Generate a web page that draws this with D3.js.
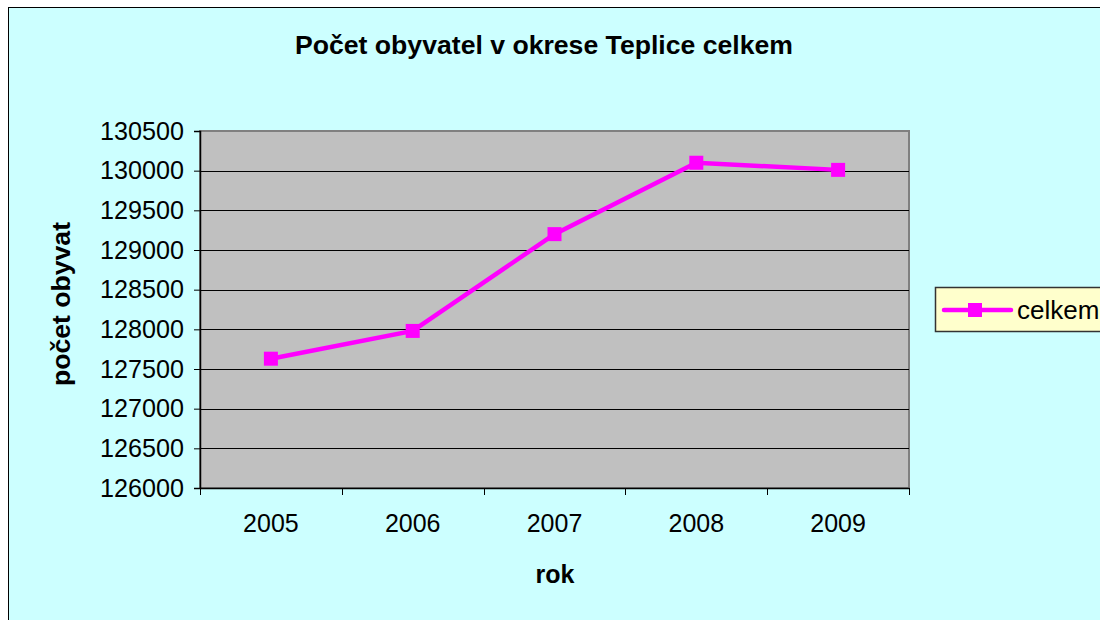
<!DOCTYPE html>
<html>
<head>
<meta charset="utf-8">
<script src="https://cdn.jsdelivr.net/npm/d3@7"></script>
<style>
  body { margin: 0; background: #fff; }
  svg { display: block; font-family: "Liberation Sans", Arial, sans-serif; }
</style>
</head>
<body>
<div id="chart"></div>
<script>
const years = ["2005", "2006", "2007", "2008", "2009"];
const celkem = [127630, 127980, 129200, 130100, 130010];
const yTicks = [126000, 126500, 127000, 127500, 128000, 128500, 129000, 129500, 130000, 130500];
const seriesName = "celkem";

const W = 1100, H = 620;
const plot = { left: 200, top: 131, right: 909, bottom: 488 };

const svg = d3.select("#chart").append("svg").attr("width", W).attr("height", H);

// chart background with border (clipped at right/bottom like the original)
svg.append("rect")
  .attr("x", 8.5).attr("y", 7.5)
  .attr("width", W).attr("height", H)
  .attr("fill", "#ccffff").attr("stroke", "#000").attr("stroke-width", 1);

const x = d3.scaleBand().domain(years).range([plot.left, plot.right]);
const y = d3.scaleLinear().domain([126000, 130500]).range([plot.bottom, plot.top]);

// plot area
svg.append("rect")
  .attr("x", plot.left).attr("y", plot.top)
  .attr("width", plot.right - plot.left).attr("height", plot.bottom - plot.top)
  .attr("fill", "#c0c0c0").attr("stroke", "#808080").attr("stroke-width", 2);

// gridlines
svg.append("g")
  .selectAll("line")
  .data(yTicks.slice(1, -1))
  .enter()
  .append("line")
  .attr("x1", plot.left).attr("x2", plot.right)
  .attr("y1", (d) => Math.round(y(d)) + 0.5).attr("y2", (d) => Math.round(y(d)) + 0.5)
  .attr("stroke", "#000").attr("stroke-width", 1);

// y axis
const yAxis = svg.append("g")
  .attr("transform", `translate(${plot.left},0)`)
  .call(d3.axisLeft(y).tickValues(yTicks).tickSize(6).tickPadding(10).tickFormat(d3.format("d")));
yAxis.select(".domain").attr("stroke", "#000").attr("stroke-width", 1.5);
yAxis.selectAll(".tick line").attr("stroke", "#000");
yAxis.selectAll("text").attr("font-size", 25).attr("fill", "#000")
  .attr("font-family", "Liberation Sans, Arial, sans-serif")
  .attr("textLength", 84).attr("lengthAdjust", "spacingAndGlyphs");

// x axis
const xAxis = svg.append("g")
  .attr("transform", `translate(0,${plot.bottom})`)
  .call(d3.axisBottom(x).tickSize(0).tickPadding(26));
xAxis.select(".domain").attr("stroke", "#000").attr("stroke-width", 1.5);
xAxis.selectAll("text").attr("font-size", 25).attr("fill", "#000")
  .attr("font-family", "Liberation Sans, Arial, sans-serif");

// x ticks between categories
const bounds = years.map((d) => x(d)).concat([x(years[years.length - 1]) + x.bandwidth()]);
xAxis.selectAll(".cat-tick")
  .data(bounds)
  .enter()
  .append("line")
  .attr("class", "cat-tick")
  .attr("x1", (d) => Math.round(d) + 0.5).attr("x2", (d) => Math.round(d) + 0.5)
  .attr("y1", 0).attr("y2", 7)
  .attr("stroke", "#000");

// line + markers
const cx = (i) => x(years[i]) + x.bandwidth() / 2;
const line = d3.line().x((d, i) => cx(i)).y((d) => y(d));

svg.append("path")
  .datum(celkem)
  .attr("fill", "none")
  .attr("stroke", "#ff00ff")
  .attr("stroke-width", 4.5)
  .attr("d", line);

svg.selectAll(".marker")
  .data(celkem)
  .enter()
  .append("rect")
  .attr("class", "marker")
  .attr("x", (d, i) => cx(i) - 7)
  .attr("y", (d) => y(d) - 7)
  .attr("width", 14).attr("height", 14)
  .attr("fill", "#ff00ff");

// title
svg.append("text")
  .attr("x", 544).attr("y", 54)
  .attr("text-anchor", "middle")
  .attr("font-size", 25).attr("font-weight", "bold")
  .attr("textLength", 498).attr("lengthAdjust", "spacingAndGlyphs")
  .text("Počet obyvatel v okrese Teplice celkem");

// axis titles
svg.append("text")
  .attr("transform", "translate(70,304) rotate(-90)")
  .attr("text-anchor", "middle")
  .attr("font-size", 25).attr("font-weight", "bold")
  .attr("textLength", 164).attr("lengthAdjust", "spacingAndGlyphs")
  .text("počet obyvat");

svg.append("text")
  .attr("x", 555).attr("y", 583)
  .attr("text-anchor", "middle")
  .attr("font-size", 25).attr("font-weight", "bold")
  .text("rok");

// legend
const legend = svg.append("g").attr("transform", "translate(935,287)");
legend.append("rect")
  .attr("x", 0.5).attr("y", 0.5)
  .attr("width", 200).attr("height", 44)
  .attr("fill", "#ffffcc").attr("stroke", "#333").attr("stroke-width", 1.5);
legend.append("line")
  .attr("x1", 9).attr("x2", 76).attr("y1", 23).attr("y2", 23)
  .attr("stroke", "#ff00ff").attr("stroke-width", 4.5).attr("stroke-linecap", "round");
legend.append("rect")
  .attr("x", 33).attr("y", 16).attr("width", 14).attr("height", 14)
  .attr("fill", "#ff00ff");
legend.append("text")
  .attr("x", 82).attr("y", 32)
  .attr("font-size", 26)
  .text(seriesName);
</script>
</body>
</html>
